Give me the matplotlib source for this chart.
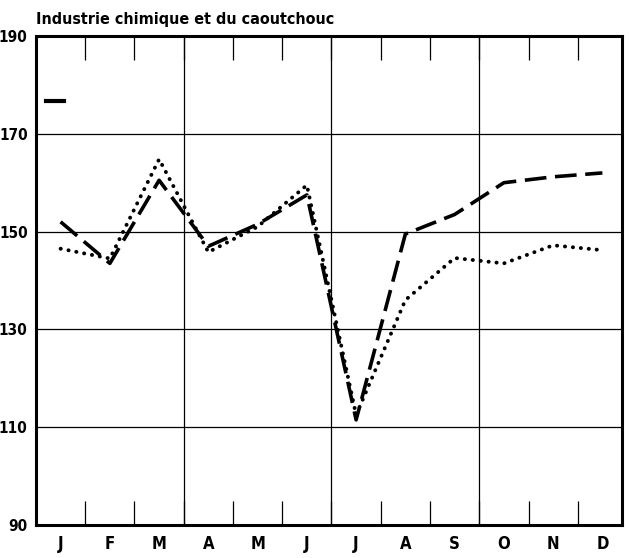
import matplotlib
matplotlib.use("Agg")
import matplotlib.pyplot as plt
from matplotlib.lines import Line2D
import numpy as np

months = ["J", "F", "M", "A", "M", "J", "J", "A", "S", "O", "N", "D"]
serie_tirets = [152, 143.5, 160.5, 147, 151.5, 157.5, 111.5, 149.5, 153.5, 160, 161.2, 162]
serie_points = [146.5, 144.5, 164.8, 145.8, 151, 159.5, 112.5, 136, 144.6, 143.5, 147.2, 146.2]
y_ticks = [90, 110, 130, 150, 170, 190]
title = "Industrie chimique et du caoutchouc"

plt.rcParams['font.family'] = ['DejaVu Sans']
plt.rcParams['font.weight'] = 'bold'
plt.rcParams['font.stretch'] = 'condensed'

x = np.arange(len(months))

fig = plt.figure(figsize=(6.29, 5.58), dpi=100)
ax = fig.add_axes([0.0572, 0.0591, 0.9318, 0.8764])

ax.plot(x, serie_tirets, color='black', lw=2.6, linestyle=(0, (6, 2.4)))
ax.plot(x, serie_points, color='black', lw=2.8, linestyle=(0, (0.05, 2.0)),
        dash_capstyle='round')

ax.set_xlim(-0.5, 11.4)
ax.set_ylim(90, 190)

# grille
for v in y_ticks[1:-1]:
    ax.axhline(v, color='black', lw=0.9)
for b in [2.5, 5.5, 8.5]:
    ax.axvline(b, color='black', lw=0.9)

ax.set_xticks(x)
ax.set_xticklabels(months, fontsize=12)
ax.set_xticks(np.arange(0.5, 11, 1), minor=True)
ax.tick_params(axis='x', which='major', length=0, pad=7)
ax.tick_params(axis='x', which='minor', direction='in', length=17, width=0.9,
               top=True, bottom=True)
ax.set_yticks(y_ticks)
ax.set_yticklabels([str(v) for v in y_ticks], fontsize=11)
ax.tick_params(axis='y', length=0, pad=6)

for s in ax.spines.values():
    s.set_linewidth(2.2)

# reste de légende
ax.legend(handles=[Line2D([], [], color='black', lw=3)], labels=[''],
          loc='upper left', bbox_to_anchor=(0.0, 0.9), frameon=False,
          handlelength=1.3, borderpad=0.2)

fig.text(0.058, 0.965, title, fontsize=11.5, fontweight='bold', ha='left', va='center')

fig.savefig("out.png", dpi=100)
